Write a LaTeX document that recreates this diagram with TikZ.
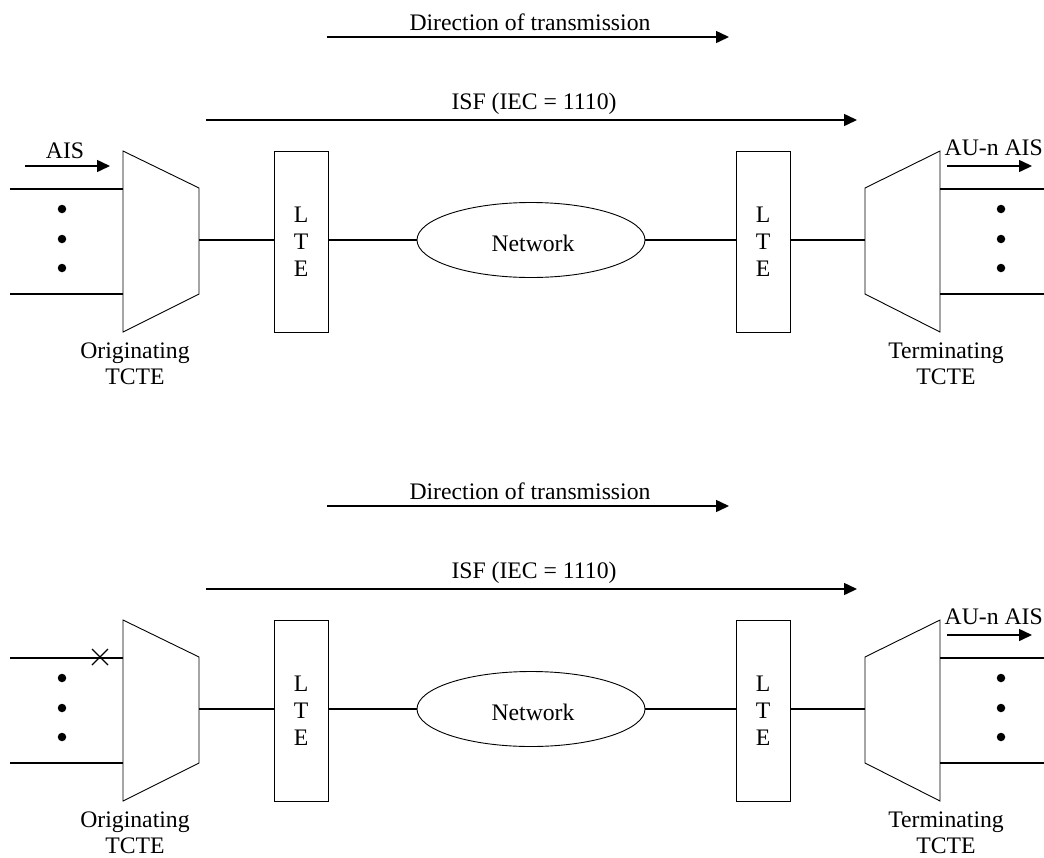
\documentclass[tikz,border=0pt]{standalone}
\usepackage{fontspec}
\setmainfont{Liberation Serif}
\usetikzlibrary{arrows.meta,shapes.geometric,calc}
\begin{document}
\begin{tikzpicture}[x=1pt,y=-1pt,
  txt/.style={inner sep=0pt,font=\fontsize{23.7}{26}\selectfont},
  wire/.style={line width=1.5pt},
  shp/.style={line width=0.9pt},
  arr/.style={line width=1.5pt,-{Triangle[length=13pt,width=12pt]}},
  ltebox/.style={draw,shp,minimum width=54pt,minimum height=181pt,inner sep=0pt,align=center,font=\fontsize{23.7}{27}\selectfont},
  netell/.style={draw,shp,ellipse,minimum width=228pt,minimum height=75pt,inner sep=0pt},
  dotm/.style={circle,fill,inner sep=0pt,minimum size=8.5pt}
]
\useasboundingbox (0,0) rectangle (1044,857);
\foreach \p/\dy in {a/0,b/469}{
\begin{scope}[yshift=-\dy pt]
  % direction of transmission
  \node[txt] (dir\p) at (530,22) {Direction of transmission};
  \coordinate (d1\p) at (327,37);
  \coordinate (d2\p) at (729,37);
  \draw[arr] (d1\p) -- (d2\p);
  \node[txt] (isf\p) at (534,104) {ISF (IEC = 1110)};
  \coordinate (i1\p) at (206,120);
  \coordinate (i2\p) at (857,120);
  \draw[arr] (i1\p) -- (i2\p);
  % originating trapezoid
  \coordinate (ot1\p) at (123,151);
  \coordinate (ot2\p) at (199,188);
  \coordinate (ot3\p) at (199,294);
  \coordinate (ot4\p) at (123,332);
  \draw[shp] (ot1\p) -- (ot2\p) -- (ot3\p) -- (ot4\p) -- cycle;
  \coordinate (oout\p) at (199,240);
  % terminating trapezoid
  \coordinate (tt1\p) at (940,151);
  \coordinate (tt2\p) at (865,188);
  \coordinate (tt3\p) at (865,294);
  \coordinate (tt4\p) at (940,332);
  \draw[shp] (tt1\p) -- (tt2\p) -- (tt3\p) -- (tt4\p) -- cycle;
  \coordinate (tin\p) at (865,240);
  % LTEs and network
  \node[ltebox] (lteA\p) at (301,241.5) {L\\T\\E};
  \node[ltebox] (lteB\p) at (763,241.5) {L\\T\\E};
  \node[netell] (net\p) at (531,240) {};
  \node[txt] (nettxt\p) at (533,243) {Network};
  \draw[wire] (oout\p) -- (oout\p -| lteA\p.west);
  \draw[wire] (net\p.west -| lteA\p.east) -- (net\p.west);
  \draw[wire] (net\p.east) -- (net\p.east -| lteB\p.west);
  \draw[wire] (tin\p -| lteB\p.east) -- (tin\p);
  % input tributaries
  \coordinate (il1\p) at (10,189);
  \coordinate (ir1\p) at (123,189);
  \coordinate (il2\p) at (10,294);
  \coordinate (ir2\p) at (123,294);
  \draw[wire] (il1\p) -- (ir1\p);
  \draw[wire] (il2\p) -- (ir2\p);
  \node[dotm] (id1\p) at (62,209) {};
  \node[dotm] (id2\p) at (62,239) {};
  \node[dotm] (id3\p) at (62,268) {};
  % output tributaries
  \coordinate (ol1\p) at (940,189);
  \coordinate (or1\p) at (1044,189);
  \coordinate (ol2\p) at (940,294);
  \coordinate (or2\p) at (1044,294);
  \draw[wire] (ol1\p) -- (or1\p);
  \draw[wire] (ol2\p) -- (or2\p);
  \node[dotm] (od1\p) at (1001,209) {};
  \node[dotm] (od2\p) at (1001,239) {};
  \node[dotm] (od3\p) at (1001,268) {};
  % AU-n AIS
  \node[txt,anchor=east] (aun\p) at (1043,148) {AU-n AIS};
  \coordinate (ua1\p) at (947,166);
  \coordinate (ua2\p) at (1032,166);
  \draw[arr] (ua1\p) -- (ua2\p);
  % labels
  \node[txt,align=center] (orig\p) at (135,364) {Originating\\TCTE};
  \node[txt,align=center] (term\p) at (946,364) {Terminating\\TCTE};
\end{scope}
}
% top panel: AIS arrow
\node[txt] (ais) at (65,151) {AIS};
\coordinate (ais1) at (25,166);
\coordinate (ais2) at (110,166);
\draw[arr] (ais1) -- (ais2);
% bottom panel: cross
\coordinate (xc) at (100,657);
\draw[line width=1.1pt] ($(xc)+(-8,-8)$) -- ($(xc)+(8,8)$) ($(xc)+(-8,8)$) -- ($(xc)+(8,-8)$);
\end{tikzpicture}
\end{document}
